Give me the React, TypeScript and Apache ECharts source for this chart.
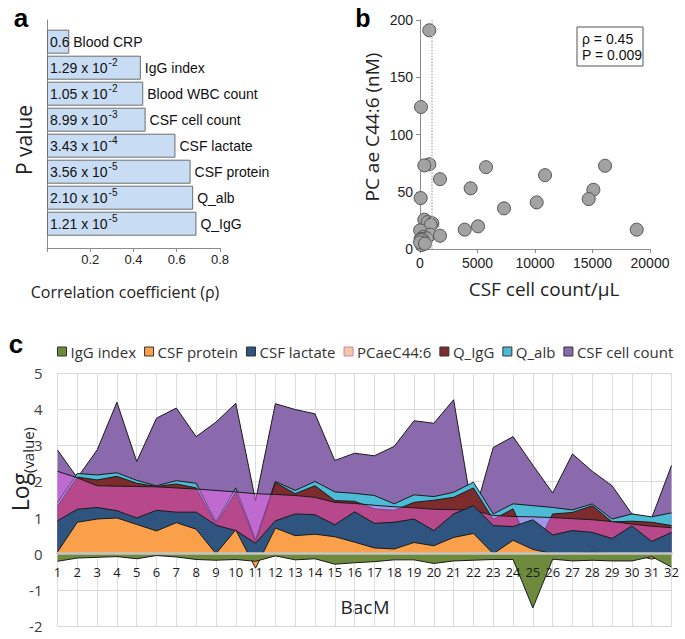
import React, { useEffect, useRef } from 'react';
import * as echarts from 'echarts';

// ---------- Panel a: correlation coefficients ----------
const corrCategories = ['Blood CRP', 'IgG index', 'Blood WBC count', 'CSF cell count', 'CSF lactate', 'CSF protein', 'Q_alb', 'Q_IgG'];
const corrValues = [0.103, 0.434, 0.445, 0.456, 0.594, 0.664, 0.676, 0.691];
const pMantissa = ['0.6', '1.29', '1.05', '8.99', '3.43', '3.56', '2.10', '1.21'];
const pExponent = ['', '-2', '-2', '-3', '-4', '-5', '-5', '-5'];

// ---------- Panel b: scatter ----------
const cellCountPerUl = [812, 87, 812, 16090, 377, 5740, 10870, 1740, 4406, 15075, 58, 14670, 10147, 7306, 377, 667, 1073, 933, 5044, 3885, 18844, 10, 870, 1740, 290, 58, 575, 190, 76, 145, 10, 435];
const pcaeNm = [191, 124, 74, 72.7, 73, 71.5, 64.5, 61, 53, 51.7, 44.5, 43.6, 40.7, 35.5, 25.6, 23.5, 22.4, 21, 19.8, 16.9, 16.9, 16.3, 12.5, 11.6, 10.5, 8.7, 9.3, 8.5, 7.8, 3.5, 5.8, 4.7];

// ---------- Panel c: log values per BacM sample ----------
const bacm = ['1', '2', '3', '4', '5', '6', '7', '8', '9', '10', '11', '12', '13', '14', '15', '16', '17', '18', '19', '20', '21', '22', '23', '24', '25', '26', '27', '28', '29', '30', '31', '32'];
const logCellCount = [2.87, 2.1, 2.87, 4.19, 2.55, 3.75, 4.03, 3.24, 3.64, 4.16, 1.47, 4.15, 3.99, 3.87, 2.58, 2.78, 2.71, 2.97, 3.68, 3.61, 4.26, 1.0, 2.94, 3.24, 2.45, 1.68, 2.76, 2.28, 1.88, 1.1, 0.99, 2.44];
const logQalb = [1.42, 2.22, 2.18, 2.24, 2.03, 1.88, 2.02, 1.95, 0.88, 1.82, 0.38, 2.0, 1.75, 2.0, 1.71, 1.67, 1.61, 1.38, 1.63, 1.58, 1.7, 1.98, 1.1, 1.38, 1.33, 1.28, 1.21, 1.38, 0.96, 1.1, 1.02, 1.13];
const logQigg = [1.32, 2.12, 2.04, 2.14, 1.95, 1.86, 1.93, 1.82, 0.82, 1.7, 0.33, 1.97, 1.66, 1.88, 1.47, 1.45, 1.24, 1.2, 1.42, 1.48, 1.56, 1.82, 0.95, 1.24, 0.0, 1.1, 1.14, 1.33, 0.88, 0.9, 0.87, 0.78];
const logPcae = [2.28, 2.1, 1.88, 1.87, 1.86, 1.85, 1.82, 1.79, 1.75, 1.71, 1.66, 1.64, 1.61, 1.56, 1.42, 1.39, 1.34, 1.3, 1.27, 1.23, 1.22, 1.2, 1.06, 1.03, 1.02, 1.0, 0.97, 0.94, 0.89, 0.82, 0.76, 0.72];
const logLactate = [0.91, 1.23, 1.28, 1.19, 0.99, 1.2, 1.15, 1.15, 0.79, 0.64, 0.29, 0.91, 1.1, 1.08, 0.8, 1.16, 0.84, 0.87, 0.96, 0.64, 1.1, 1.33, 0.78, 0.75, 0.94, 0.52, 0.64, 0.59, 0.42, 0.77, 0.34, 0.59];
const logProtein = [0.05, 0.87, 0.96, 0.99, 0.81, 0.63, 0.86, 0.68, 0, 0.66, -0.4, 0.71, 0.5, 0.54, 0.47, 0.32, 0.16, 0.13, 0.31, 0.22, 0.45, 0.56, 0, 0.37, 0.12, 0, 0, 0.04, 0, 0, -0.15, 0];
const logIggIndex = [-0.21, -0.12, -0.1, -0.08, -0.14, -0.05, -0.09, -0.16, -0.18, -0.16, -0.21, -0.06, -0.17, -0.14, -0.29, -0.25, -0.22, -0.17, -0.17, -0.27, -0.2, -0.18, -0.16, -0.16, -1.5, -0.15, -0.2, -0.18, -0.2, -0.2, -0.08, -0.37];

const ARIAL = '"Liberation Sans", Arial, sans-serif';
const SANS = '"Open Sans", "Noto Sans", sans-serif';

const C_PURPLE = '#8a6aac';
const C_CYAN = '#4cbcd6';
const C_RED = '#7d2c2e';
const C_PCAE = 'rgba(255,106,255,0.45)';
const C_BLUE = '#2f5480';
const C_ORANGE = '#faa04a';
const C_GREEN = '#6e8b3d';

// plot geometry of panel c (zero line sits 5/7 of the way down)
const C_TOP = 373;
const C_HEIGHT = 253;

function areaSeries(name: string, data: number[], color: string, z: number) {
  return {
    name,
    type: 'line',
    xAxisIndex: 3,
    yAxisIndex: 3,
    data,
    z,
    symbol: 'none',
    silent: true,
    lineStyle: { color: '#1a1a1a', width: 1 },
    itemStyle: { color },
    areaStyle: { color, opacity: 1 },
  };
}

export default function App() {
  const ref = useRef<HTMLDivElement>(null);
  useEffect(() => {
    if (!ref.current) return;
    const chart = echarts.init(ref.current, undefined, { renderer: 'svg' });
    const option: any = {
      animation: false,
      backgroundColor: '#ffffff',
      textStyle: { fontFamily: ARIAL },
      grid: [
        { left: 47, top: 28.7, width: 173, height: 208, outerBoundsMode: 'none' },
        { left: 47, top: 20, width: 173, height: 228, outerBoundsMode: 'none' },
        { left: 420, top: 20, width: 230, height: 229, outerBoundsMode: 'none' },
        { left: 57.5, top: C_TOP, width: 614, height: C_HEIGHT, outerBoundsMode: 'none' },
        { left: 57.5, top: C_TOP, width: 614, height: (C_HEIGHT * 5) / 7, outerBoundsMode: 'none' },
      ],
      legend: {
        data: [
          { name: 'IgG index', itemStyle: { color: C_GREEN } },
          { name: 'CSF protein', itemStyle: { color: C_ORANGE } },
          { name: 'CSF lactate', itemStyle: { color: C_BLUE } },
          { name: 'PCaeC44:6', itemStyle: { color: '#f5c6a5', borderColor: '#d080b0' } },
          { name: 'Q_IgG', itemStyle: { color: C_RED } },
          { name: 'Q_alb', itemStyle: { color: C_CYAN } },
          { name: 'CSF cell count', itemStyle: { color: C_PURPLE } },
        ],
        left: 52,
        top: 339,
        icon: 'rect',
        itemWidth: 9,
        itemHeight: 9,
        itemGap: 8,
        selectedMode: false,
        itemStyle: { borderColor: '#333', borderWidth: 1 },
        textStyle: { fontFamily: SANS, fontSize: 15, color: '#333', padding: [0, 0, 0, -1] },
      },
      xAxis: [
        { gridIndex: 0, type: 'value', min: 0, max: 0.8, show: false },
        {
          gridIndex: 1, type: 'value', min: 0, max: 0.8, interval: 0.2,
          axisLine: { show: true, onZero: true, lineStyle: { color: '#8c8c8c', width: 1 } },
          axisTick: { show: true, length: 4, lineStyle: { color: '#8c8c8c' } },
          axisLabel: { fontSize: 13, color: '#222', margin: 5, fontFamily: ARIAL, formatter: (v: number) => (v === 0 ? '' : v.toFixed(1)) },
          splitLine: { show: false },
        },
        {
          gridIndex: 2, type: 'value', min: 0, max: 20000, interval: 5000,
          axisLine: { show: true, onZero: true, lineStyle: { color: '#8c8c8c', width: 1 } },
          axisTick: { show: true, length: 4, lineStyle: { color: '#8c8c8c' } },
          axisLabel: { fontSize: 14, color: '#222', margin: 7, fontFamily: ARIAL, formatter: (v: number) => String(v) },
          splitLine: { show: false },
        },
        {
          gridIndex: 3, type: 'category', data: bacm, boundaryGap: false, position: 'bottom', z: 0,
          axisLine: { show: false, onZero: false }, axisTick: { show: false }, axisLabel: { show: false },
          splitLine: { show: true, interval: 0, lineStyle: { color: '#dcdcdc', width: 1 } },
        },
        {
          gridIndex: 4, type: 'category', data: bacm, boundaryGap: false, position: 'bottom', z: 20,
          axisLine: { show: true, onZero: false, lineStyle: { color: '#c4c4c4', width: 2.5 } },
          axisTick: { show: false },
          axisLabel: { interval: 0, fontSize: 13, color: '#1a1a1a', margin: 12, fontFamily: SANS },
          splitLine: { show: false },
        },
      ],
      yAxis: [
        { gridIndex: 0, type: 'category', data: corrCategories, inverse: true, show: false },
        {
          gridIndex: 1, type: 'value', min: 0, max: 1,
          axisLine: { show: true, onZero: true, lineStyle: { color: '#8c8c8c', width: 1 } },
          axisTick: { show: false }, axisLabel: { show: false }, splitLine: { show: false },
        },
        {
          gridIndex: 2, type: 'value', min: 0, max: 200, interval: 50,
          axisLine: { show: true, onZero: true, lineStyle: { color: '#8c8c8c', width: 1 } },
          axisTick: { show: true, length: 4, lineStyle: { color: '#8c8c8c' } },
          axisLabel: { fontSize: 14, color: '#222', margin: 7, fontFamily: ARIAL },
          splitLine: { show: false },
        },
        {
          gridIndex: 3, type: 'value', min: -2, max: 5, interval: 1, z: 0,
          axisLine: { show: false }, axisTick: { show: false },
          axisLabel: { fontSize: 15, color: '#404040', margin: 15, fontFamily: SANS },
          splitLine: { show: true, lineStyle: { color: '#d9d9d9', width: 1 } },
        },
        { gridIndex: 4, type: 'value', min: 0, max: 5, show: false },
      ],
      series: [
        {
          name: 'corr', type: 'bar', xAxisIndex: 0, yAxisIndex: 0, data: corrValues, barWidth: 24, silent: true,
          itemStyle: { color: '#c8dcf4', borderColor: '#6d6d6d', borderWidth: 1 },
          label: {
            show: true, position: 'insideLeft', distance: 3,
            formatter: (p: any) => {
              const i = p.dataIndex;
              return pExponent[i] ? `{m|${pMantissa[i]} x 10}{s|${pExponent[i]}}` : `{m|${pMantissa[i]}}`;
            },
            rich: {
              m: { fontSize: 14, color: '#111', fontFamily: ARIAL },
              s: { fontSize: 10, color: '#111', fontFamily: ARIAL, padding: [0, 0, 10, 1] },
            },
          },
        },
        {
          name: 'corrNames', type: 'bar', xAxisIndex: 0, yAxisIndex: 0, data: corrValues, barWidth: 24, barGap: '-100%', silent: true,
          itemStyle: { color: 'rgba(0,0,0,0)', borderWidth: 0 },
          label: {
            show: true, position: 'right', distance: 4, fontSize: 14, color: '#111', fontFamily: ARIAL,
            formatter: (p: any) => corrCategories[p.dataIndex],
          },
        },
        {
          name: 'scatter', type: 'scatter', xAxisIndex: 2, yAxisIndex: 2, silent: true,
          data: cellCountPerUl.map((x, i) => [x, pcaeNm[i]]),
          symbolSize: 13,
          itemStyle: { color: '#a2a2a2', borderColor: '#555', borderWidth: 1, opacity: 1 },
          markLine: {
            silent: true, symbol: ['none', 'none'], label: { show: false },
            lineStyle: { type: 'dotted', color: '#b8b8b8', width: 1.5 },
            data: [{ xAxis: 1000 }],
          },
        },
        areaSeries('CSF cell count', logCellCount, C_PURPLE, 2),
        areaSeries('Q_alb', logQalb, C_CYAN, 3),
        areaSeries('Q_IgG', logQigg, C_RED, 4),
        areaSeries('PCaeC44:6', logPcae, C_PCAE, 5),
        areaSeries('CSF lactate', logLactate, C_BLUE, 6),
        areaSeries('CSF protein', logProtein, C_ORANGE, 7),
        areaSeries('IgG index', logIggIndex, C_GREEN, 8),
      ],
      graphic: [
        { type: 'text', x: 21, y: 18, style: { text: 'a', fontSize: 26, fontWeight: 'bold', fontFamily: ARIAL, fill: '#000', align: 'center', verticalAlign: 'middle' } },
        { type: 'text', x: 363, y: 18, style: { text: 'b', fontSize: 25, fontWeight: 'bold', fontFamily: ARIAL, fill: '#000', align: 'center', verticalAlign: 'middle' } },
        { type: 'text', x: 16, y: 344, style: { text: 'c', fontSize: 26, fontWeight: 'bold', fontFamily: ARIAL, fill: '#000', align: 'center', verticalAlign: 'middle' } },
        { type: 'text', x: 24, y: 140, rotation: Math.PI / 2, style: { text: 'P value', fontSize: 21, fontFamily: SANS, fill: '#222', align: 'center', verticalAlign: 'middle' } },
        { type: 'text', x: 125, y: 292, style: { text: 'Correlation coefficient (ρ)', fontSize: 16, fontFamily: SANS, fill: '#222', align: 'center', verticalAlign: 'middle' } },
        { type: 'text', x: 372, y: 127, rotation: Math.PI / 2, style: { text: 'PC ae C44:6 (nM)', fontSize: 19, fontFamily: SANS, fill: '#222', align: 'center', verticalAlign: 'middle' } },
        { type: 'text', x: 544, y: 289, style: { text: 'CSF cell count/µL', fontSize: 19, fontFamily: SANS, fill: '#222', align: 'center', verticalAlign: 'middle' } },
        { type: 'rect', shape: { x: 577, y: 27, width: 66, height: 39 }, style: { fill: '#fff', stroke: '#555', lineWidth: 1 }, z: 10 },
        { type: 'text', x: 582, y: 39, z: 11, style: { text: 'ρ = 0.45', fontSize: 14, fontFamily: ARIAL, fill: '#111', align: 'left', verticalAlign: 'middle' } },
        { type: 'text', x: 582, y: 55, z: 11, style: { text: 'P = 0.009', fontSize: 14, fontFamily: ARIAL, fill: '#111', align: 'left', verticalAlign: 'middle' } },
        { type: 'text', x: 20, y: 492, rotation: Math.PI / 2, style: { text: 'Log', fontSize: 23, fontFamily: SANS, fill: '#222', align: 'center', verticalAlign: 'middle' } },
        { type: 'text', x: 28, y: 450, rotation: Math.PI / 2, style: { text: '(value)', fontSize: 15, fontFamily: SANS, fill: '#222', align: 'center', verticalAlign: 'middle' } },
        { type: 'text', x: 365, y: 607, style: { text: 'BacM', fontSize: 19, fontFamily: SANS, fill: '#222', align: 'center', verticalAlign: 'middle' } },
      ],
    };
    chart.setOption(option);
    return () => chart.dispose();
  }, []);
  return <div ref={ref} style={{ position: 'fixed', left: 0, top: 0, width: 685, height: 639 }} />;
}
